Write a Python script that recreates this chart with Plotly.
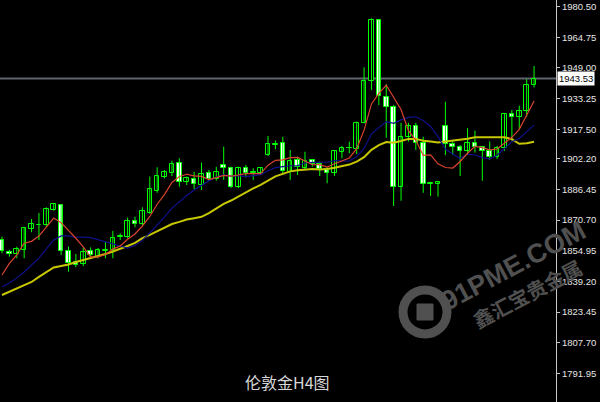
import plotly.graph_objects as go

# ---- data (London gold, H4) ----
opens = [1860.5,1854.5,1853.1,1855.4,1866.2,1868.0,1868.2,1875.9,1878.5,1855.0,
         1849.0,1848.2,1854.7,1851.9,1854.8,1855.4,1861.8,1862.2,1870.4,1868.7,
         1874.5,1885.9,1893.1,1895.1,1900.0,1890.2,1891.7,1888.8,1895.1,1891.7,
         1899.1,1897.4,1887.6,1897.4,1895.0,1895.1,1904.2,1909.6,1910.2,1895.6,
         1901.7,1897.7,1901.7,1899.6,1896.9,1894.8,1905.9,1907.7,1907.2,1920.8,
         1942.4,1973.7,1934.2,1928.8,1887.9,1913.3,1919.1,1910.2,1889.3,1889.1,
         1919.1,1909.9,1908.5,1906.3,1910.5,1908.2,1906.4,1903.3,1907.7,1925.3,
         1923.9,1926.9,1940.2]
highs = [1862.2,1855.4,1857.1,1867.3,1871.3,1874.4,1877.3,1879.4,1879.0,1857.1,
         1853.3,1856.7,1856.7,1856.4,1859.6,1865.1,1863.9,1872.0,1872.5,1877.3,
         1893.1,1897.9,1896.5,1901.3,1902.5,1893.1,1895.6,1900.3,1896.5,1898.2,
         1908.5,1898.2,1898.2,1899.1,1897.4,1898.0,1914.0,1911.7,1913.6,1906.8,
         1903.3,1905.9,1902.2,1900.8,1897.9,1906.8,1908.9,1911.1,1921.4,1949.3,
         1974.5,1974.0,1940.7,1929.9,1920.8,1920.8,1920.8,1913.6,1890.5,1890.5,
         1931.6,1911.9,1909.4,1918.0,1916.7,1908.9,1911.1,1908.9,1925.7,1927.4,
         1929.6,1943.2,1950.0]
lows = [1853.7,1851.9,1851.1,1851.1,1864.5,1860.5,1867.3,1875.6,1852.8,1844.2,
        1846.5,1847.1,1851.1,1851.1,1851.1,1851.1,1860.5,1861.4,1867.0,1868.2,
        1873.9,1884.8,1892.2,1893.4,1887.9,1888.8,1886.6,1886.2,1890.8,1891.0,
        1891.4,1887.2,1887.2,1892.7,1891.4,1894.4,1903.7,1907.2,1893.9,1891.4,
        1893.9,1896.9,1898.2,1893.4,1889.7,1893.4,1902.5,1905.1,1904.7,1920.5,
        1937.7,1929.9,1913.1,1878.0,1880.7,1911.1,1906.8,1884.8,1883.1,1882.8,
        1904.2,1904.2,1893.4,1904.2,1905.4,1891.0,1901.7,1902.2,1906.4,1911.6,
        1917.4,1923.9,1939.0]
closes = [1854.8,1853.1,1855.7,1866.5,1868.6,1868.2,1876.4,1879.0,1855.0,1848.8,
          1847.6,1854.5,1852.6,1855.4,1854.9,1861.7,1862.3,1870.3,1868.7,1875.4,
          1886.6,1893.4,1895.6,1899.6,1890.5,1892.2,1889.3,1894.4,1891.7,1895.5,
          1897.4,1887.6,1897.4,1894.8,1895.5,1897.4,1909.9,1909.9,1896.1,1901.3,
          1897.9,1901.1,1899.6,1896.9,1894.8,1906.4,1907.7,1907.8,1920.8,1942.4,
          1973.7,1934.6,1928.8,1887.9,1913.3,1919.1,1910.2,1889.3,1889.4,1890.5,
          1909.9,1908.5,1906.3,1910.5,1908.2,1906.4,1903.3,1907.7,1925.3,1923.9,
          1926.9,1940.2,1943.53]

ma_red = [1842.5,1848.5,1852.8,1858.8,1859.8,1862.5,1867.1,1871.8,1869.4,1865.5,
          1861.4,1857.0,1851.7,1851.8,1853.0,1855.8,1857.4,1860.9,1863.6,1867.7,
          1872.6,1878.9,1884.0,1890.1,1893.2,1894.3,1893.5,1893.2,1891.6,1892.6,
          1893.7,1893.3,1893.9,1894.6,1894.6,1894.6,1899.0,1901.5,1901.7,1902.9,
          1903.0,1901.3,1899.2,1899.3,1898.0,1899.7,1901.1,1902.7,1907.5,1917.0,
          1930.5,1935.9,1940.1,1933.5,1927.6,1916.7,1911.9,1904.0,1904.3,1899.7,
          1897.8,1897.5,1900.9,1905.1,1908.7,1908.0,1906.9,1907.3,1910.2,1913.3,
          1917.4,1924.8,1932.0]
ma_blue = [1836.3,1838.4,1841.0,1844.0,1847.6,1851.2,1855.9,1860.5,1862.6,1862.6,
           1861.9,1862.0,1861.7,1860.6,1859.3,1858.6,1857.2,1856.3,1857.7,1860.3,
           1864.2,1868.1,1872.4,1876.9,1880.4,1883.4,1886.2,1888.6,1890.9,1892.9,
           1894.0,1893.4,1893.6,1893.1,1893.6,1894.1,1896.1,1897.7,1898.2,1898.7,
           1898.8,1900.1,1900.4,1900.6,1900.5,1901.4,1901.2,1901.0,1903.5,1907.6,
           1915.1,1918.5,1921.4,1920.5,1922.3,1923.6,1923.9,1922.0,1918.9,1913.7,
           1907.3,1904.7,1902.4,1904.7,1904.2,1902.9,1902.2,1904.1,1907.7,1911.0,
           1912.7,1915.9,1919.6]
ma_yellow = [1832.2,1833.8,1835.6,1837.4,1838.9,1841.5,1844.0,1846.4,1847.1,1847.9,
             1849.2,1850.2,1851.2,1852.0,1853.3,1854.6,1855.9,1857.4,1859.0,1861.5,
             1863.1,1865.1,1867.1,1868.7,1869.8,1871.0,1871.7,1872.4,1874.3,1876.6,
             1879.1,1880.8,1883.0,1885.0,1887.0,1888.8,1891.2,1893.2,1894.5,1895.8,
             1896.4,1896.8,1897.0,1896.8,1897.0,1897.7,1898.7,1899.3,1900.8,1903.1,
             1906.9,1909.3,1910.9,1910.5,1911.4,1912.5,1912.5,1911.5,1911.2,1910.6,
             1911.2,1911.6,1911.9,1912.6,1913.3,1913.3,1913.1,1913.0,1913.3,1912.4,
             1910.0,1910.3,1911.0]

tick_vals = [1980.50,1964.75,1949.00,1933.25,1917.50,1902.20,1886.45,1870.70,
             1854.95,1839.20,1823.45,1807.70,1791.95]
tick_text = ["%.2f" % v for v in tick_vals]
last_price = 1943.53
title_text = "伦敦金H4图"

idx = list(range(len(closes)))

GREEN = "#00ff00"
WM = "#505050"
fig = go.Figure()

# wicks
wx, wy = [], []
for i in idx:
    wx += [i, i, None]
    wy += [lows[i], highs[i], None]
fig.add_trace(go.Scatter(x=wx, y=wy, mode="lines", line=dict(color=GREEN, width=1),
                         hoverinfo="skip", showlegend=False))

# bodies
def bodies(up):
    xs, bs, hs = [], [], []
    for i in idx:
        o, c = opens[i], closes[i]
        if (c >= o) == up:
            xs.append(i)
            bs.append(min(o, c))
            hs.append(max(abs(c - o), 0.35))
    return xs, bs, hs

for up, fill in ((True, "#000000"), (False, "#ffffff")):
    xs, bs, hs = bodies(up)
    fig.add_trace(go.Bar(x=xs, y=hs, base=bs, width=0.62,
                         marker=dict(color=fill, line=dict(color=GREEN, width=1)),
                         hoverinfo="skip", showlegend=False))

fig.add_trace(go.Scatter(x=idx, y=ma_yellow, mode="lines",
                         line=dict(color="#c8c800", width=2), hoverinfo="skip", showlegend=False))
fig.add_trace(go.Scatter(x=idx, y=ma_blue, mode="lines",
                         line=dict(color="#10108c", width=1.2), hoverinfo="skip", showlegend=False))
fig.add_trace(go.Scatter(x=idx, y=ma_red, mode="lines",
                         line=dict(color="#d8442e", width=1.2), hoverinfo="skip", showlegend=False))

# current price line
fig.add_shape(type="line", xref="paper", x0=0, x1=1, yref="y", y0=last_price, y1=last_price,
              line=dict(color="#5e646c", width=2), layer="below")
fig.add_annotation(xref="paper", x=1.0, xanchor="left", yref="y", y=last_price, yanchor="middle",
                   text="%.2f" % last_price, showarrow=False, bgcolor="#ffffff",
                   font=dict(family="Liberation Sans, Arial", size=9.5, color="#000000"),
                   borderpad=1, xshift=1)

# watermark
fig.add_annotation(xref="paper", yref="paper", x=513/556, y=1-266/402, text="<b>91PME.COM</b>",
                   showarrow=False, textangle=-28, xanchor="center", yanchor="middle",
                   font=dict(family="Liberation Sans, Arial", size=27, color=WM))
fig.add_annotation(xref="paper", yref="paper", x=527/556, y=1-293/402, text="<b>鑫汇宝贵金属</b>",
                   showarrow=False, textangle=-28, xanchor="center", yanchor="middle",
                   font=dict(family="Noto Sans CJK SC", size=20, color=WM))
fig.add_shape(type="circle", xref="paper", yref="paper",
              x0=403/556, x1=447/556, y0=1-334/402, y1=1-290/402,
              line=dict(color=WM, width=9), layer="above")
fig.add_shape(type="rect", xref="paper", yref="paper",
              x0=417/556, x1=433/556, y0=1-320/402, y1=1-304/402,
              line=dict(color=WM, width=1), fillcolor=WM, layer="above")

# title
fig.add_annotation(xref="paper", yref="paper", x=287/556, y=1-382/402, text=title_text,
                   showarrow=False, xanchor="center", yanchor="middle",
                   font=dict(family="Noto Sans CJK SC", size=16, color="#d8d8d8"))

fig.update_layout(
    width=600, height=402,
    margin=dict(l=0, r=44, t=0, b=0),
    paper_bgcolor="#000000", plot_bgcolor="#000000",
    bargap=0, barmode="overlay",
    xaxis=dict(visible=False, range=[-0.27, 74.97]),
    yaxis=dict(side="right", range=[1777.16, 1983.95], tickvals=tick_vals, ticktext=tick_text,
               showgrid=False, zeroline=False, showline=True, linecolor="#c8c8c8", linewidth=1,
               ticks="outside", ticklen=3, tickcolor="#c8c8c8",
               tickfont=dict(family="Liberation Sans, Arial", size=9.5, color="#e6e6e6")),
    showlegend=False,
)
fig.write_html("out.html", config={"displayModeBar": False},
               post_script="document.body.style.margin='0';document.body.style.overflow='hidden';")
